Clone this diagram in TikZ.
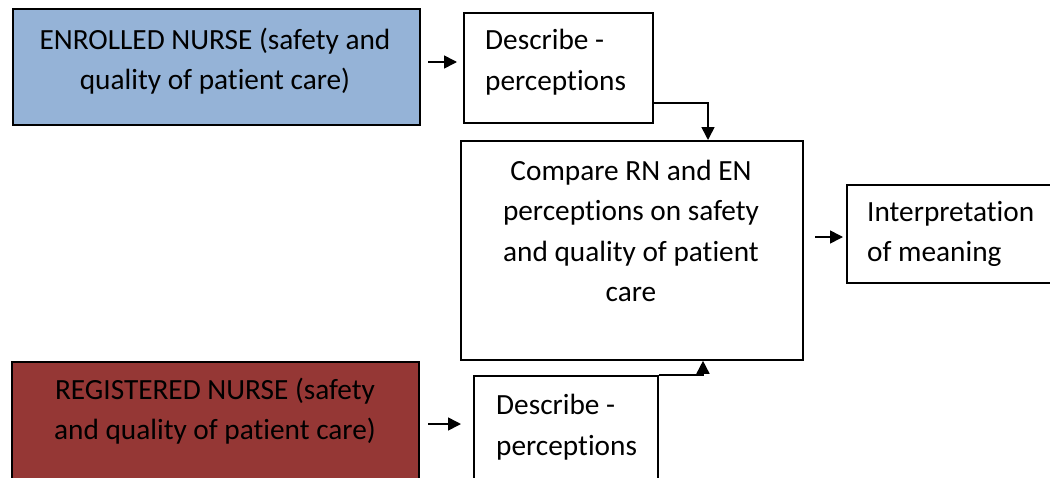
\documentclass[tikz,border=0pt]{standalone}
\usepackage{fontspec}
\setmainfont{Carlito}[Ligatures={NoCommon}]
\usetikzlibrary{arrows.meta}
\definecolor{enblue}{HTML}{95B3D7}
\definecolor{rnred}{HTML}{953735}
\tikzset{
  box/.style={draw=black, line width=1.8pt, inner sep=0pt, anchor=north west},
  txt/.style={inner sep=0pt, font=\fontsize{29.3}{40.5}\selectfont},
  conn/.style={line width=1.6pt, -{Triangle[length=13pt,width=13pt]}},
}
\begin{document}
\begin{tikzpicture}[x=1pt,y=-1pt]
\useasboundingbox (0,0) rectangle (1050,477);
% boxes
\node[box, fill=enblue, minimum width=407pt, minimum height=116pt] (en) at (12,8) {};
\node[box, minimum width=189pt, minimum height=110pt] (d1) at (463,12) {};
\node[box, minimum width=342pt, minimum height=219pt] (cmp) at (460,140) {};
\node[box, minimum width=210pt, minimum height=98pt] (int) at (846,184) {};
\node[box, fill=rnred, minimum width=407pt, minimum height=130pt] (rn) at (11,361) {};
\node[box, minimum width=184pt, minimum height=110pt] (d2) at (473,375) {};
% texts
\node[txt, align=center] (entxt) at (215,61) {ENROLLED NURSE (safety and\\quality of patient care)};
\node[txt, align=left, anchor=west] (d1txt) at (485,62) {Describe -\\perceptions};
\node[txt, align=center] (cmptxt) at (631,231) {Compare RN and EN\\perceptions on safety\\and quality of patient\\care};
\node[txt, align=left, anchor=west] (inttxt) at (867,234) {Interpretation\\of meaning};
\node[txt, align=center] (rntxt) at (215,411) {REGISTERED NURSE (safety\\and quality of patient care)};
\node[txt, align=left, anchor=west] (d2txt) at (496,427) {Describe -\\perceptions};
% short arrows
\coordinate (a1s) at (428,62);
\coordinate (a1e) at (457,62);
\coordinate (a2s) at (428,424);
\coordinate (a2e) at (461,424);
\coordinate (a3s) at (815,237);
\coordinate (a3e) at (843,237);
\draw[conn] (a1s) -- (a1e);
\draw[conn] (a2s) -- (a2e);
\draw[conn] (a3s) -- (a3e);
% connectors
\draw[conn] (d1.east |- 0,103) -- (708,103) -- (708,0 |- cmp.north);
\draw[conn] (d2.north east) -- (703,375) -- (703,0 |- cmp.south);
\end{tikzpicture}
\end{document}
